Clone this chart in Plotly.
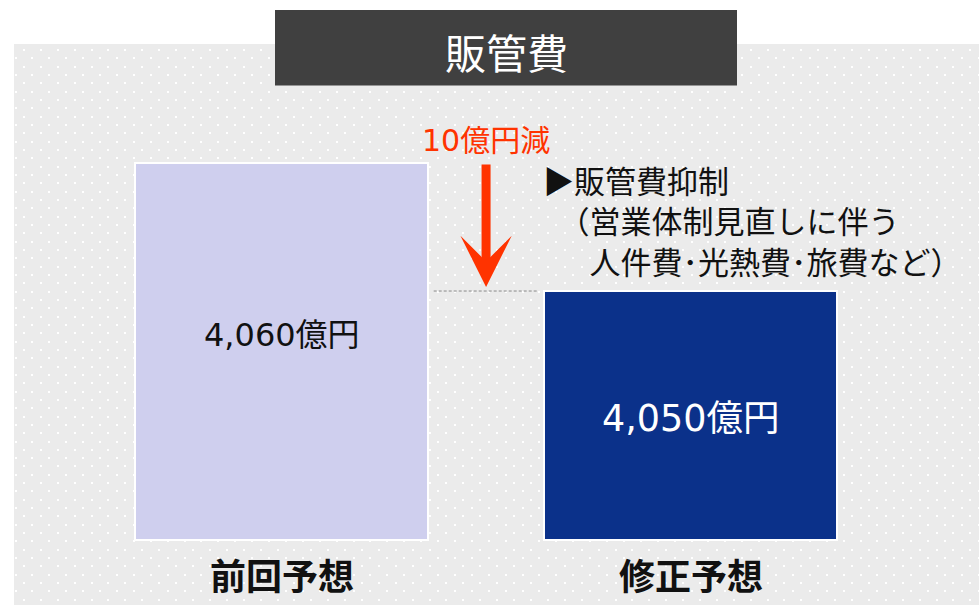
import numpy as np
import plotly.graph_objects as go

# ---- data ----
categories = ["前回予想", "修正予想"]
values = [4060, 4050]                      # 億円
value_labels = ["4,060億円", "4,050億円"]
bar_colors = ["#CFCFEE", "#0B318A"]
label_colors = ["#111111", "#FFFFFF"]
title_text = "販管費"
change_text = f"{values[0] - values[1]}億円減"
note_lines = [
    "▶販管費抑制",
    "\u2002（営業体制見直しに伴う",
    "\u3000\u2002人件費･光熱費･旅費など）",
]

# ---- canvas / scale settings ----
W, H = 979, 605
AXIS_FLOOR = 4030.55           # truncated value axis starts here
Y_RANGE = [4025.47, 4069.3]
X_RANGE = [-0.654, 1.705]
BAR_WIDTH = 0.718
PANEL_LEFT, PANEL_TOP = 14, 44

JP = "Noto Sans CJK JP"
NUM_JP = "DejaVu Sans, Noto Sans CJK JP"


def px_x(p):
    return p / W


def px_y(p):
    return 1 - p / H


fig = go.Figure()

# dotted panel texture (pixel-space background axes)
rows = np.round(np.arange(50, H + 1, 8.33))
dot_x, dot_y = [], []
for i, ry in enumerate(rows):
    start = 24 - (8.45 if i % 2 else 0)
    xs = np.round(np.arange(start, W + 1, 16.9))
    xs = xs[xs >= PANEL_LEFT + 1]
    dot_x.extend(xs.tolist())
    dot_y.extend([ry] * len(xs))
fig.add_trace(go.Scatter(
    x=dot_x, y=dot_y, mode="markers",
    marker=dict(symbol="square", size=2, color="#FFFFFF", line=dict(width=0)),
    hoverinfo="skip", showlegend=False, xaxis="x", yaxis="y",
))

# the two forecast bars
fig.add_trace(go.Bar(
    x=categories,
    y=[v - AXIS_FLOOR for v in values],
    base=AXIS_FLOOR,
    width=BAR_WIDTH,
    marker=dict(color=bar_colors, line=dict(color="#FFFFFF", width=2)),
    hoverinfo="skip", showlegend=False, xaxis="x2", yaxis="y2",
))

dom_x = [px_x(PANEL_LEFT), 1]
dom_y = [0, px_y(PANEL_TOP)]
fig.update_layout(
    width=W, height=H,
    margin=dict(l=0, r=0, t=0, b=0),
    paper_bgcolor="#FFFFFF",
    plot_bgcolor="#EBEBEB",
    xaxis=dict(domain=dom_x, range=[PANEL_LEFT, W], visible=False, fixedrange=True),
    yaxis=dict(domain=dom_y, range=[H, PANEL_TOP], visible=False, fixedrange=True),
    xaxis2=dict(overlaying="x", range=X_RANGE, visible=False, type="category"),
    yaxis2=dict(overlaying="y", range=Y_RANGE, visible=False),
    bargap=0,
)

shapes = []
# dashed guide at the revised level
shapes.append(dict(
    type="line", xref="x2", yref="y2",
    x0=BAR_WIDTH / 2 + 0.013, x1=1 - BAR_WIDTH / 2 - 0.015,
    y0=values[1], y1=values[1],
    line=dict(color="#8A8A8A", width=1, dash="3px,2px"),
))
# title box
shapes.append(dict(
    type="rect", xref="paper", yref="paper",
    x0=px_x(275), x1=px_x(737), y0=px_y(85.5), y1=px_y(10),
    fillcolor="#404040", line=dict(width=0), layer="above",
))
fig.update_layout(shapes=shapes)

ann = []
ann.append(dict(
    xref="paper", yref="paper", x=px_x(506), y=px_y(51),
    text=title_text, showarrow=False, xanchor="center", yanchor="middle",
    font=dict(family=JP, size=41, color="#FFFFFF"),
))
# decrease arrow from previous to revised level
ann.append(dict(
    xref="x2", yref="y2", x=0.5, y=values[1],
    axref="x2", ayref="y2", ax=0.5, ay=values[0],
    text="", showarrow=True, arrowhead=3, arrowsize=0.95, arrowwidth=9,
    arrowcolor="#FF3300", standoff=4,
))
ann.append(dict(
    xref="x2", yref="paper", x=0.5, y=px_y(140),
    text=change_text, showarrow=False, xanchor="center", yanchor="middle",
    font=dict(family=NUM_JP, size=30, color="#FF3300"),
))
# value labels inside bars
for cat, lab, col, ypx, fs in zip(categories, value_labels, label_colors,
                                  [335, 418], [32, 36.5]):
    ann.append(dict(
        xref="x2", yref="paper", x=cat, y=px_y(ypx),
        text=lab, showarrow=False, xanchor="center", yanchor="middle",
        font=dict(family=NUM_JP, size=fs, color=col),
    ))
# category labels
for cat in categories:
    ann.append(dict(
        xref="x2", yref="paper", x=cat, y=px_y(574),
        text=cat, showarrow=False, xanchor="center", yanchor="middle",
        font=dict(family=JP, size=36, color="#111111", weight="bold"),
    ))
# explanatory note
ann.append(dict(
    xref="paper", yref="paper", x=px_x(541), y=px_y(220),
    text="<br>".join(note_lines), showarrow=False,
    xanchor="left", yanchor="middle", align="left",
    font=dict(family=JP, size=31, color="#111111"),
))
fig.update_layout(annotations=ann)

fig.write_html("out.html")
